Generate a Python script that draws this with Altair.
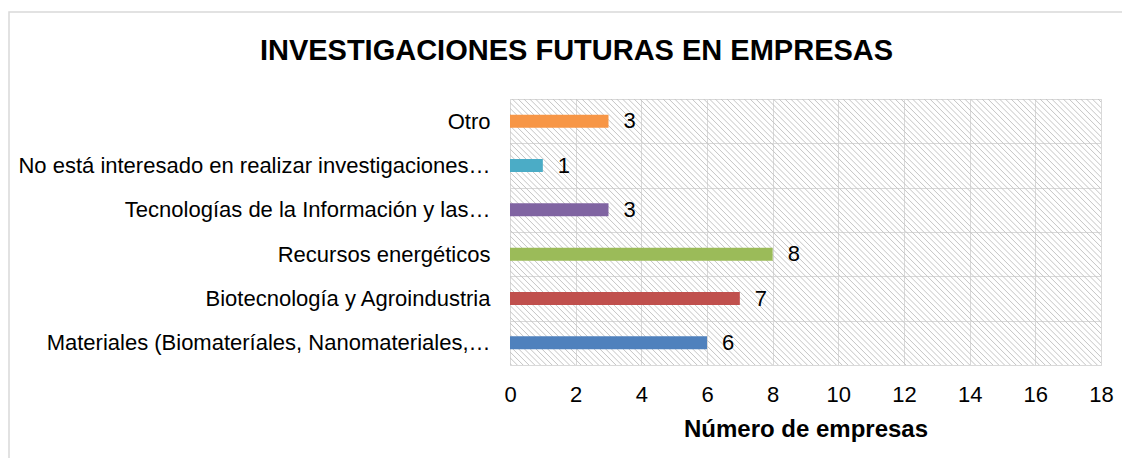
import altair as alt
import pandas as pd

# ---- data ----
categories = [
    "Otro",
    "No está interesado en realizar investigaciones…",
    "Tecnologías de la Información y las…",
    "Recursos energéticos",
    "Biotecnología y Agroindustria",
    "Materiales (Biomateríales, Nanomateriales,…",
]
values = [3, 1, 3, 8, 7, 6]
bar_colors = ["#F79646", "#4BACC6", "#8064A2", "#9BBB59", "#C0504D", "#4F81BD"]
x_ticks = [0, 2, 4, 6, 8, 10, 12, 14, 16, 18]
x_max = 18

title_text = "INVESTIGACIONES FUTURAS EN EMPRESAS"
x_title = "Número de empresas"

FONT = "Liberation Sans, Arial, sans-serif"
W, H = 591, 266
GRID = "#d9d9d9"

df = pd.DataFrame({"cat": categories, "val": values})
span = pd.DataFrame({"lo": [0], "hi": [x_max]})
frame = pd.DataFrame({"k": [0]})

# ---- diagonal hatch as a repeating linear gradient (decoration) ----
period = 5.8
half = 1.0
total = W + H
clear = "rgba(196,196,196,0)"
ink = "rgba(196,196,196,1)"
stops = [alt.GradientStop(color=clear, offset=0)]
p = 1.5
while p + half < total:
    stops.append(alt.GradientStop(color=clear, offset=(p - half) / total))
    stops.append(alt.GradientStop(color=ink, offset=p / total))
    stops.append(alt.GradientStop(color=clear, offset=(p + half) / total))
    p += period
stops.append(alt.GradientStop(color=clear, offset=1))
k = (W + H) / (W * W + H * H)
hatch_grad = alt.LinearGradient(
    gradient="linear", stops=stops, x1=0, y1=1, x2=k * W, y2=1 - k * H
)

x_scale = alt.Scale(domain=[0, x_max], nice=False)
y_scale = alt.Scale(paddingInner=0, paddingOuter=0)

x_axis = alt.Axis(
    values=x_ticks,
    title=x_title,
    domain=False,
    ticks=False,
    grid=True,
    gridColor=GRID,
    gridWidth=1,
    labelFlush=False,
    labelFont=FONT,
    labelFontSize=22,
    labelColor="#000000",
    labelPadding=19,
    titleFont=FONT,
    titleFontSize=24,
    titleFontWeight="bold",
    titleColor="#000000",
    titlePadding=12,
)

y_axis = alt.Axis(
    title=None,
    domain=False,
    ticks=False,
    grid=True,
    gridColor=GRID,
    gridWidth=1,
    tickBand="extent",
    labelFont=FONT,
    labelFontSize=22,
    labelColor="#000000",
    labelLimit=700,
    labelPadding=20,
)

hatch = alt.Chart(span).mark_rect(color=hatch_grad).encode(
    x=alt.X("lo:Q", scale=x_scale, axis=x_axis, title=x_title),
    x2="hi:Q",
)

bars = alt.Chart(df).mark_bar(size=13).encode(
    x=alt.X("val:Q", scale=x_scale, axis=x_axis, title=x_title),
    y=alt.Y("cat:N", sort=categories, scale=y_scale, axis=y_axis),
    color=alt.Color(
        "cat:N",
        scale=alt.Scale(domain=categories, range=bar_colors),
        legend=None,
    ),
)

labels = alt.Chart(df).mark_text(
    align="left", baseline="middle", dx=15, font=FONT, fontSize=22, color="#000000"
).encode(
    x=alt.X("val:Q", scale=x_scale, axis=x_axis, title=x_title),
    y=alt.Y("cat:N", sort=categories, scale=y_scale, axis=y_axis),
    text=alt.Text("val:Q"),
)

# light outer chart-area frame (decoration)
border = alt.Chart(frame).mark_rect(
    filled=False, stroke=GRID, strokeWidth=1.5
).encode(
    x=alt.value(-501), x2=alt.value(700), y=alt.value(-87), y2=alt.value(520)
)

chart = (
    alt.layer(hatch, bars, labels, border)
    .properties(
        width=W,
        height=H,
        autosize=alt.AutoSizeParams(type="none"),
        padding={"left": 502, "top": 91, "right": 21, "bottom": 93},
        title=alt.TitleParams(
            title_text,
            font=FONT,
            fontSize=29,
            fontWeight="bold",
            color="#000000",
            anchor="middle",
            frame="group",
            dx=-229,
            offset=-54.75,
        ),
    )
    .configure_view(stroke=None)
    .configure(background="#ffffff")
)

chart.save("out.html", embed_options={"renderer": "svg", "actions": False})
